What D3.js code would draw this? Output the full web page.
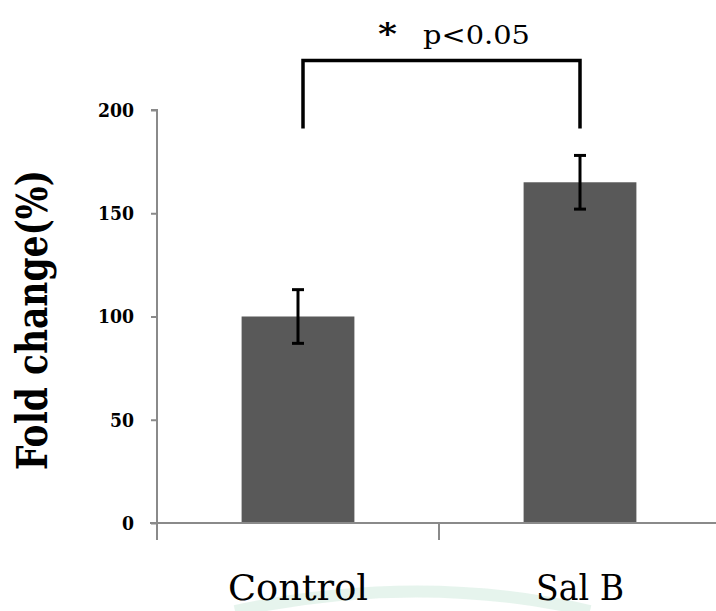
<!DOCTYPE html>
<html>
<head>
  <meta charset="utf-8">
  <title>Fold change</title>
  <style>
    body { margin: 0; background: #fff; }
    svg { display: block; }
  </style>
</head>
<body>
  <svg width="716" height="611"></svg>
  <script src="https://d3js.org/d3.v7.min.js"></script>
  <script>
  // data
  const categories = ["Control", "Sal B"];
  const values = [100, 165];
  const errors = [13, 13];
  const yTicks = [0, 50, 100, 150, 200];
  const sigLabel = "p<0.05";

  const svg = d3.select("svg");
  const serif = "'DejaVu Serif', 'Liberation Serif', serif";

  // scales
  const x = d3.scaleBand()
    .domain(categories)
    .range([157, 721])
    .paddingInner(0.6)
    .paddingOuter(0.3);

  const y = d3.scaleLinear()
    .domain([0, 200])
    .range([523, 110]);

  const axisColor = "#8a8a8a";

  // faint watermark arc behind the labels
  svg.append("path")
    .attr("d", "M235,611 Q420,572 590,611")
    .attr("fill", "none")
    .attr("stroke", "#dcefe6")
    .attr("stroke-width", 12)
    .attr("opacity", 0.7);

  // bars
  svg.selectAll(".bar")
    .data(categories)
    .enter()
    .append("rect")
    .attr("class", "bar")
    .attr("x", d => x(d))
    .attr("width", x.bandwidth())
    .attr("y", (d, i) => y(values[i]))
    .attr("height", (d, i) => y(0) - y(values[i]))
    .attr("fill", "#595959");

  // error bars
  const eb = svg.selectAll(".err")
    .data(categories)
    .enter()
    .append("g")
    .attr("class", "err")
    .attr("transform", d => "translate(" + (x(d) + x.bandwidth() / 2) + ",0)");

  eb.append("line")
    .attr("y1", (d, i) => y(values[i] + errors[i]))
    .attr("y2", (d, i) => y(values[i] - errors[i]))
    .attr("stroke", "#000")
    .attr("stroke-width", 3);

  [1, -1].forEach(s => {
    eb.append("line")
      .attr("x1", -6).attr("x2", 6)
      .attr("y1", (d, i) => y(values[i] + s * errors[i]))
      .attr("y2", (d, i) => y(values[i] + s * errors[i]))
      .attr("stroke", "#000")
      .attr("stroke-width", 3);
  });

  // y axis
  const yAxis = svg.append("g")
    .attr("transform", "translate(157,0)")
    .call(d3.axisLeft(y).tickValues(yTicks).tickSize(6).tickPadding(17));
  yAxis.select(".domain").attr("stroke", axisColor).attr("stroke-width", 2)
    .attr("d", "M-6," + y(200) + "H0V" + (y(0) + 17));
  yAxis.selectAll(".tick line").attr("stroke", axisColor).attr("stroke-width", 2);
  yAxis.selectAll(".tick text")
    .attr("font-family", serif)
    .attr("font-weight", "bold")
    .attr("font-size", 18)
    .attr("fill", "#000")
    .attr("dy", "0.36em")
    .attr("textLength", d => String(d).length * 12)
    .attr("lengthAdjust", "spacingAndGlyphs");

  // x axis: baseline + boundary ticks
  svg.append("line")
    .attr("x1", 150).attr("x2", 716)
    .attr("y1", y(0)).attr("y2", y(0))
    .attr("stroke", axisColor).attr("stroke-width", 2);

  const step = x.step();
  const edges = [x.range()[0], x.range()[0] + step, x.range()[0] + 2 * step];
  svg.selectAll(".xtick")
    .data(edges)
    .enter()
    .append("line")
    .attr("x1", d => d).attr("x2", d => d)
    .attr("y1", y(0)).attr("y2", y(0) + 17)
    .attr("stroke", axisColor).attr("stroke-width", 2);

  // category labels
  const labelWidth = { "Control": 140, "Sal B": 88 };
  svg.selectAll(".xlabel")
    .data(categories)
    .enter()
    .append("text")
    .attr("x", d => x(d) + x.bandwidth() / 2 - labelWidth[d] / 2)
    .attr("y", 600)
    .attr("font-family", serif)
    .attr("font-size", 35)
    .attr("fill", "#000")
    .attr("textLength", d => labelWidth[d])
    .attr("lengthAdjust", "spacingAndGlyphs")
    .text(d => d);

  // y axis title
  svg.append("text")
    .attr("transform", "translate(47,320) rotate(-90)")
    .attr("x", -150)
    .attr("font-family", serif)
    .attr("font-weight", "bold")
    .attr("font-size", 42)
    .attr("fill", "#000")
    .attr("textLength", 300)
    .attr("lengthAdjust", "spacingAndGlyphs")
    .text("Fold change(%)");

  // significance bracket
  const xa = x(categories[0]) + x.bandwidth() / 2 + 5;
  const xb = x(categories[1]) + x.bandwidth() / 2;
  svg.append("path")
    .attr("d", "M" + xa + "," + y(191) + "V" + y(224) + "H" + xb + "V" + y(191))
    .attr("fill", "none")
    .attr("stroke", "#000")
    .attr("stroke-width", 3.5);

  svg.append("text")
    .attr("x", 378)
    .attr("y", 44)
    .attr("font-family", serif)
    .attr("font-weight", "bold")
    .attr("font-size", 30)
    .attr("fill", "#000")
    .attr("textLength", 19)
    .attr("lengthAdjust", "spacingAndGlyphs")
    .text("*");

  svg.append("text")
    .attr("x", 423)
    .attr("y", 44)
    .attr("font-family", serif)
    .attr("font-size", 26)
    .attr("fill", "#000")
    .attr("textLength", 107)
    .attr("lengthAdjust", "spacingAndGlyphs")
    .text(sigLabel);
  </script>
</body>
</html>
